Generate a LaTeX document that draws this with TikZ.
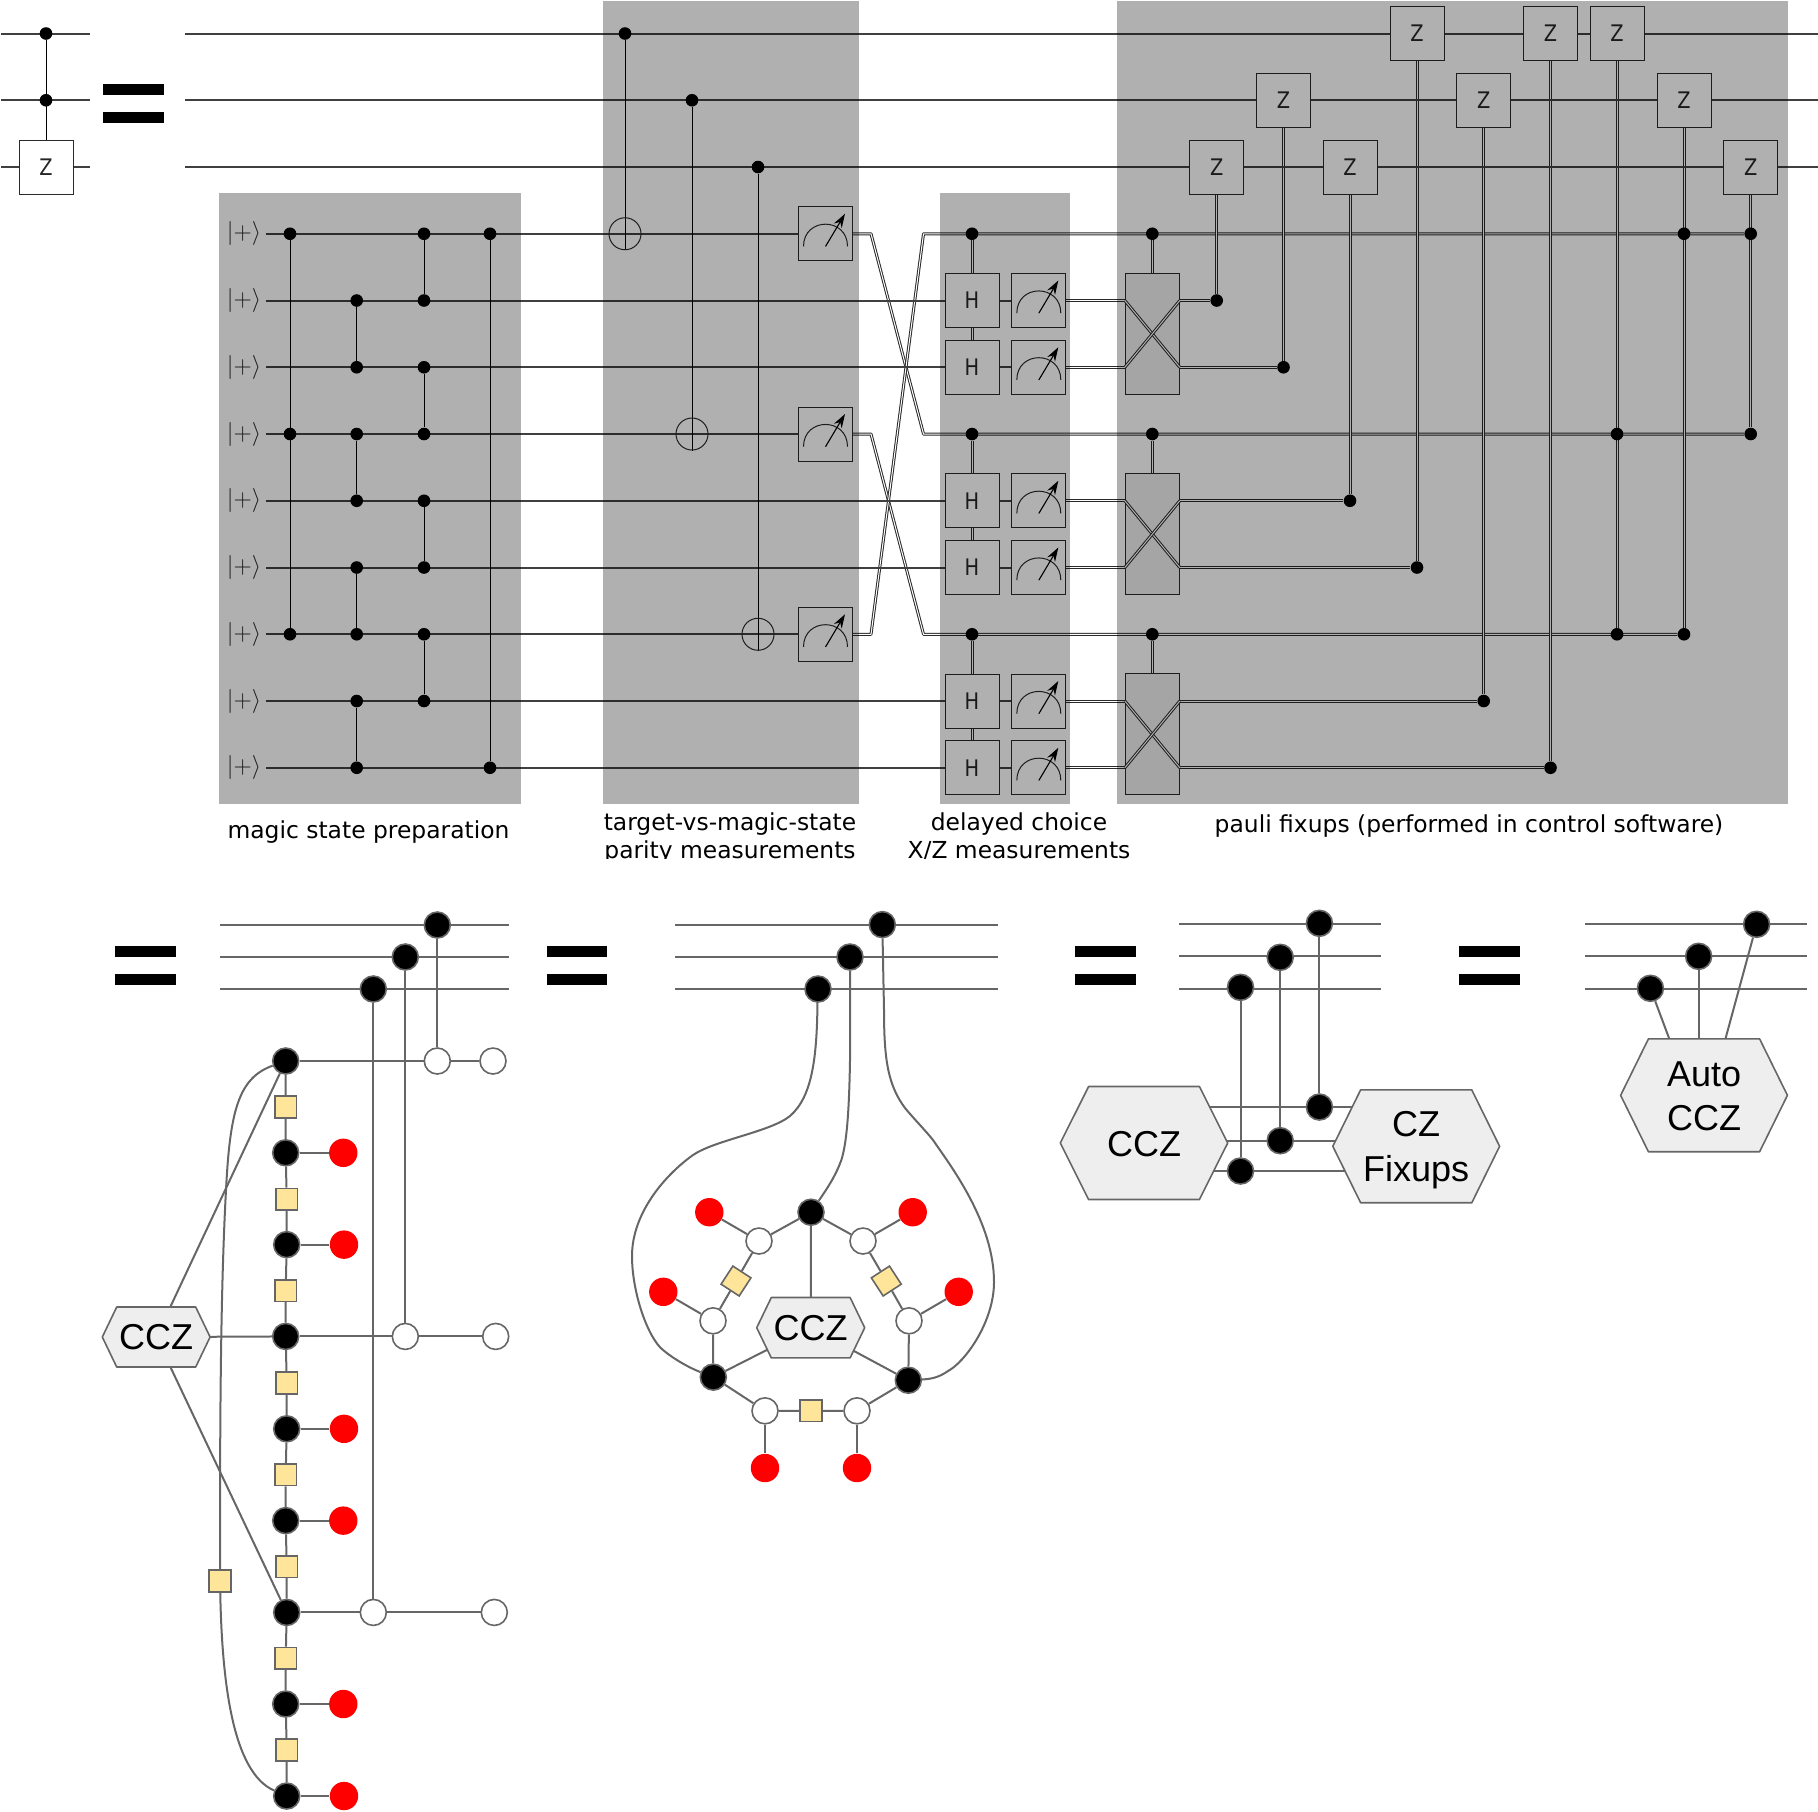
\documentclass[tikz,border=0pt]{standalone}
\usepackage{fontspec}
\usepackage{graphicx}
\setmainfont{Liberation Sans}
\newfontfamily\qfont{DejaVu Sans}
\usetikzlibrary{arrows.meta}
\pgfdeclarelayer{wires}
\pgfdeclarelayer{shade}
\pgfsetlayers{wires,main,shade}
\definecolor{gl}{HTML}{666666}
\definecolor{yel}{HTML}{FFE599}
\definecolor{hexf}{HTML}{EEEEEE}
\definecolor{qline}{HTML}{2A2A2A}
\definecolor{qwire}{HTML}{404040}
\newcommand{\glet}[1]{\scalebox{.85}[1]{#1}}
\tikzset{
  cdot/.style={circle,fill=black,draw=none,inner sep=0pt,minimum size=6.3pt},
  gatebox/.style={rectangle,draw=qline,fill=white,line width=.5pt,inner sep=0pt,minimum size=27pt,text=black!85,font=\qfont\fontsize{11.4}{11.4}\selectfont},
  swapbox/.style={rectangle,draw=qline,fill=black!6,line width=.5pt,inner sep=0pt,minimum width=27pt,minimum height=60.5pt},
  xorc/.style={circle,draw=qline,line width=.5pt,inner sep=0pt,minimum size=16pt},
  qw/.style={draw=qwire,line width=1pt},
  qc/.style={draw=black,line width=.5pt},
  clas/.style={draw=qline,line width=.5pt,double=white,double distance=.5pt,line join=round},
  ket/.style={inner sep=0pt,text=black!85,font=\fontsize{12}{12}\selectfont},
  lab/.style={inner sep=0pt,align=center,font=\qfont\fontsize{11.7}{14}\selectfont},
  gw/.style={draw=gl,line width=1pt},
  bk/.style={circle,fill=black,draw=gl,line width=.8pt,inner sep=0pt,minimum size=13pt},
  wh/.style={circle,fill=white,draw=gl,line width=.8pt,inner sep=0pt,minimum size=13pt},
  rd/.style={circle,fill=red,draw=none,inner sep=0pt,minimum size=14.2pt},
  ys/.style={rectangle,fill=yel,draw=gl,line width=.8pt,inner sep=0pt,minimum size=10.8pt},
  hexs/.style={fill=hexf,draw=gl,line width=.8pt,line join=round},
  hext/.style={inner sep=0pt,align=center,font=\fontsize{18}{22.4}\selectfont}
}
\newcommand{\hexnode}[8]{%
  \path[hexs] (#2-#4,#3) -- (#2-#4+#6,#3-#5) -- (#2+#4-#6,#3-#5) -- (#2+#4,#3) -- (#2+#4-#6,#3+#5) -- (#2-#4+#6,#3+#5) -- cycle;
  \node[hext] (#1) at (#2,#3+#8) {#7};}
\newcommand{\eqsign}[2]{%
  \fill[black] (#1,#2) rectangle (#1+60.5,#2+10.6);
  \fill[black] (#1,#2+28) rectangle (#1+60.5,#2+38.6);}
\begin{document}
\begin{tikzpicture}[x=.5pt,y=-.5pt,declare function={ry(\k)=33.5+66.75*\k;}]
\useasboundingbox (0,0) rectangle (1818,1811);

% ---------- left mini circuit
\node[cdot] (t0) at (46,{ry(0)}) {};
\node[cdot] (t1) at (46,{ry(1)}) {};
\node[gatebox] (zl) at (46,{ry(2)}) {\glet{Z}};
\foreach \k in {0,1,2} {
  \coordinate (ls\k) at (1,{ry(\k)});
  \coordinate (le\k) at (90,{ry(\k)});
  \coordinate (ws\k) at (185,{ry(\k)});
  \coordinate (we\k) at (1818,{ry(\k)});
}
\eqsign{103}{84}

% ---------- control dots
\foreach \xx/\nm/\rs in {290/a/{3,6,9},356.7/b/{4,5,6,7,8,9,10,11},424/c/{3,4,5,6,7,8,9,10},490/d/{3,11},625/e/{0},692/f/{1},758/g/{2},972/h/{3,6,9},1152.3/i/{3,6,9},1216.7/j/{4},1283.5/k/{5},1350/l/{7},1417/m/{8},1483.7/n/{10},1550.5/o/{11},1617/p/{6,9},1684/q/{3,9},1750.7/r/{3,6}} {
  \foreach \k in \rs { \node[cdot] (\nm\k) at (\xx,{ry(\k)}) {}; }
}
% ---------- kets and wire starts
\foreach \k in {3,...,11} {
  \node[ket] (ket\k) at (244,{ry(\k)}) {$|{+}\rangle$};
  \coordinate (qs\k) at (266,{ry(\k)});
}
% ---------- CNOT targets
\node[xorc] (x3) at (625,{ry(3)}) {};
\node[xorc] (x6) at (692,{ry(6)}) {};
\node[xorc] (x9) at (758,{ry(9)}) {};
% ---------- Z gates
\foreach \xx/\k/\nm in {1417/0/z1,1550.5/0/z2,1617/0/z3,1283.5/1/z4,1483.7/1/z5,1684/1/z6,1216.7/2/z7,1350/2/z8,1750.7/2/z9} {
  \node[gatebox] (\nm) at (\xx,{ry(\k)}) {\glet{Z}};
}
% ---------- H gates and meters
\foreach \k in {4,5,7,8,10,11} {
  \node[gatebox] (H\k) at (972,{ry(\k)}) {\glet{H}};
  \node[gatebox] (M\k) at (1038.8,{ry(\k)}) {};
  \begin{scope}[shift={(1038.8,{ry(\k)})}]
    \draw[draw=qline,line width=.5pt] (-22,12.7) .. controls (-22,-17) and (22,-17) .. (22,12.7);
    \draw[black,line width=.55pt,-{Stealth[length=7pt,width=4.5pt]}] (0,12.7) -- (19.5,-20);
  \end{scope}
}
\foreach \k in {3,6,9} {
  \node[gatebox] (M\k) at (825.5,{ry(\k)}) {};
  \begin{scope}[shift={(825.5,{ry(\k)})}]
    \draw[draw=qline,line width=.5pt] (-22,12.7) .. controls (-22,-17) and (22,-17) .. (22,12.7);
    \draw[black,line width=.55pt,-{Stealth[length=7pt,width=4.5pt]}] (0,12.7) -- (19.5,-20);
  \end{scope}
}
% ---------- swap boxes
\foreach \k/\kk in {4/5,7/8,10/11} {
  \node[swapbox] (S\k) at (1152.3,{ry(\k+.5)}) {};
  \draw[clas] (S\k.west |- H\k) -- (S\k.east |- H\kk);
  \draw[clas] (S\k.west |- H\kk) -- (S\k.east |- H\k);
}
% ---------- crossing bends
\coordinate (b3a) at (871,{ry(3)});
\coordinate (b3b) at (923.5,{ry(6)});
\coordinate (b6a) at (871,{ry(6)});
\coordinate (b6b) at (923.5,{ry(9)});
\coordinate (b9a) at (871,{ry(9)});
\coordinate (b9b) at (923.5,{ry(3)});

\begin{pgfonlayer}{wires}
  % classical
  \draw[clas] (M3) -- (b3a) -- (b3b) -- (r6);
  \draw[clas] (M6) -- (b6a) -- (b6b) -- (q9);
  \draw[clas] (M9) -- (b9a) -- (b9b) -- (r3);
  \foreach \k in {4,5,7,8,10,11} {
    \draw[clas] (M\k) -- (S4.west |- M\k);
  }
  \draw[clas] (h3) -- (H5);
  \draw[clas] (h6) -- (H8);
  \draw[clas] (h9) -- (H11);
  \draw[clas] (i3) -- (S4);
  \draw[clas] (i6) -- (S7);
  \draw[clas] (i9) -- (S10);
  \draw[clas] (S4.east |- H4) -- (j4);
  \draw[clas] (S4.east |- H5) -- (k5);
  \draw[clas] (S7.east |- H7) -- (l7);
  \draw[clas] (S7.east |- H8) -- (m8);
  \draw[clas] (S10.east |- H10) -- (n10);
  \draw[clas] (S10.east |- H11) -- (o11);
  \draw[clas] (z7) -- (j4);
  \draw[clas] (z4) -- (k5);
  \draw[clas] (z8) -- (l7);
  \draw[clas] (z1) -- (m8);
  \draw[clas] (z5) -- (n10);
  \draw[clas] (z2) -- (o11);
  \draw[clas] (z3) -- (p9);
  \draw[clas] (z6) -- (q9);
  \draw[clas] (z9) -- (r6);
  % quantum wires
  \foreach \k in {0,1,2} {
    \draw[qw] (ls\k) -- (le\k);
    \draw[qw] (ws\k) -- (we\k);
  }
  \foreach \k in {3,6,9} { \draw[qw] (qs\k) -- (M\k); }
  \foreach \k in {4,5,7,8,10,11} {
    \draw[qw] (qs\k) -- (H\k);
    \draw[qw] (H\k) -- (M\k);
  }
  % controls
  \draw[qc] (t0) -- (zl);
  \draw[qc] (a3) -- (a9);
  \draw[qc] (b4) -- (b5);
  \draw[qc] (b6) -- (b7);
  \draw[qc] (b8) -- (b9);
  \draw[qc] (b10) -- (b11);
  \draw[qc] (c3) -- (c4);
  \draw[qc] (c5) -- (c6);
  \draw[qc] (c7) -- (c8);
  \draw[qc] (c9) -- (c10);
  \draw[qc] (d3) -- (d11);
  \draw[qc] (e0) -- (x3);
  \draw[qc] (f1) -- (x6);
  \draw[qc] (g2) -- (x9);
  \draw[qc] (x3.north) -- (x3.south);
  \draw[qc] (x6.north) -- (x6.south);
  \draw[qc] (x9.north) -- (x9.south);
\end{pgfonlayer}

\begin{pgfonlayer}{shade}
  \fill[black,opacity=.31] (219,193) rectangle (521,804);
  \fill[black,opacity=.31] (603,1) rectangle (859,804);
  \fill[black,opacity=.31] (940,193) rectangle (1070,804);
  \fill[black,opacity=.31] (1117,1) rectangle (1788,804);
\end{pgfonlayer}

% ---------- labels (the picture cuts them off just under the lower line)
\begin{scope}
  \clip (0,0) rectangle (1818,858);
  \node[lab] (lab1) at (368.5,832) {magic state preparation};
  \node[lab,anchor=base] (lab2a) at (730,830) {target-vs-magic-state};
  \node[lab,anchor=base] (lab2b) at (730,858) {parity measurements};
  \node[lab,anchor=base] (lab3a) at (1019,830) {delayed choice};
  \node[lab,anchor=base] (lab3b) at (1019,858) {X/Z measurements};
  \node[lab] (lab4) at (1469,826) {pauli fixups (performed in control software)};
\end{scope}

% ========== section A
\eqsign{115}{946.4}
\node[bk] (Wa) at (437.3,925) {};
\node[bk] (Wb) at (405.3,957) {};
\node[bk] (Wc) at (373.3,989) {};
\coordinate (Asa) at (220.3,925); \coordinate (Aea) at (509,925);
\coordinate (Asb) at (220.3,957); \coordinate (Aeb) at (509,957);
\coordinate (Asc) at (220.3,989); \coordinate (Aec) at (509,989);
\foreach \nm/\xx/\yy in {1/285.7/1061,2/285.7/1152.8,3/286.7/1244.6,4/285.7/1336.4,5/286.7/1428.8,6/285.7/1520.6,7/286.7/1612.4,8/285.7/1704,9/286.7/1796} {
  \node[bk] (A\nm) at (\xx,\yy) {};
}
\foreach \nm/\xx/\yy in {1/285.7/1106.9,2/286.7/1199.2,3/285.7/1290.5,4/286.7/1382.9,5/285.7/1474.7,6/286.7/1566.5,7/285.7/1658.3,8/286.7/1750} {
  \node[ys] (Ay\nm) at (\xx,\yy) {};
}
\foreach \nm/\xx/\yy in {2/343.3/1152.8,3/344/1244.6,5/344/1428.8,6/343.3/1520.6,8/343.3/1704,9/344/1796} {
  \node[rd] (Ar\nm) at (\xx,\yy) {};
}
\node[wh] (Aw1) at (437.3,1061) {};
\node[wh] (Av1) at (493,1061) {};
\node[wh] (Aw4) at (405.3,1336.4) {};
\node[wh] (Av4) at (495.7,1336.4) {};
\node[wh] (Aw7) at (373.3,1612.4) {};
\node[wh] (Av7) at (494.3,1612.4) {};
\hexnode{Ah}{156.2}{1337}{53.9}{30}{14.4}{CCZ}{0}
\node[ys] (Aq) at (220,1581) {};

% ========== section B
\eqsign{546.5}{946.4}
\node[bk] (Ba) at (882.3,924.6) {};
\node[bk] (Bb) at (850,957) {};
\node[bk] (Bc) at (818,989) {};
\coordinate (Bsa) at (675,925); \coordinate (Bea) at (998.3,925);
\coordinate (Bsb) at (675,957); \coordinate (Beb) at (998.3,957);
\coordinate (Bsc) at (675,989); \coordinate (Bec) at (998.3,989);
\hexnode{Bh}{810.7}{1327.7}{54}{30.2}{14.6}{CCZ}{0}
\node[bk] (Bt) at (811,1212.2) {};
\node[bk] (Bl) at (713.3,1377.1) {};
\node[bk] (Br) at (908.3,1380.2) {};
\node[wh] (Bw1) at (759,1241) {};
\node[wh] (Bw2) at (863,1241) {};
\node[wh] (Bw3) at (713,1320.8) {};
\node[wh] (Bw4) at (909,1320.8) {};
\node[wh] (Bw5) at (765,1410.8) {};
\node[wh] (Bw6) at (857,1410.8) {};
\node[rd] (Br1) at (709.3,1212.2) {};
\node[rd] (Br2) at (912.7,1212.2) {};
\node[rd] (Br3) at (663.3,1291.8) {};
\node[rd] (Br4) at (958.7,1291.8) {};
\node[rd] (Br5) at (765,1468) {};
\node[rd] (Br6) at (857,1468) {};
\node[ys,rotate=-33] (By1) at (736,1281) {};
\node[ys,rotate=33] (By2) at (886.3,1281) {};
\node[ys] (By3) at (811,1410.8) {};

% ========== section C
\eqsign{1075}{946.4}
\node[bk] (Ca) at (1319.4,923.3) {};
\node[bk] (Cb) at (1280.2,957.3) {};
\node[bk] (Cc) at (1240.5,987.3) {};
\coordinate (Csa) at (1179,924.3); \coordinate (Cea) at (1381,924.3);
\coordinate (Csb) at (1179,956.3); \coordinate (Ceb) at (1381,956.3);
\coordinate (Csc) at (1179,988.7); \coordinate (Cec) at (1381,988.7);
\hexnode{Ch}{1144}{1143}{83.7}{56.5}{28.3}{CCZ}{1}
\hexnode{Cf}{1416.2}{1146.3}{83.4}{56.4}{27.8}{CZ\\Fixups}{4}
\node[bk] (Cp) at (1319.4,1107) {};
\node[bk] (Cq) at (1280.2,1140.7) {};
\node[bk] (Cr) at (1240.5,1171) {};

% ========== section D
\eqsign{1459}{946.4}
\node[bk] (Da) at (1756.6,924.3) {};
\node[bk] (Db) at (1698.6,956.3) {};
\node[bk] (Dc) at (1650.4,988.3) {};
\coordinate (Dsa) at (1585,924.3); \coordinate (Dea) at (1807,924.3);
\coordinate (Dsb) at (1585,956.3); \coordinate (Deb) at (1807,956.3);
\coordinate (Dsc) at (1585,988.7); \coordinate (Dec) at (1807,988.7);
\hexnode{Dh}{1704}{1095.3}{83.4}{56.4}{27.8}{Auto\\CCZ}{1}
\coordinate (Dl) at (1669.3,1038.9);
\coordinate (Dm) at (1698.6,1038.9);
\coordinate (Dr) at (1725.4,1038.9);

\begin{pgfonlayer}{wires}
  % A
  \foreach \w in {a,b,c} { \draw[gw] (As\w) -- (Ae\w); }
  \draw[gw] (A1) -- (Ay1) -- (A2) -- (Ay2) -- (A3) -- (Ay3) -- (A4) -- (Ay4) -- (A5) -- (Ay5) -- (A6) -- (Ay6) -- (A7) -- (Ay7) -- (A8) -- (Ay8) -- (A9);
  \foreach \k in {2,3,5,6,8,9} { \draw[gw] (A\k) -- (Ar\k); }
  \draw[gw] (A1) -- (Av1);
  \draw[gw] (A4) -- (Av4);
  \draw[gw] (A7) -- (Av7);
  \draw[gw] (Wa) -- (Aw1);
  \draw[gw] (Wb) -- (Aw4);
  \draw[gw] (Wc) -- (Aw7);
  \draw[gw] (Ah) -- (A1);
  \draw[gw] (Ah) -- (A4);
  \draw[gw] (Ah) -- (A7);
  \draw[gw] (A1) .. controls (238,1078) and (230,1112) .. (226,1190) .. controls (220,1300) and (220,1450) .. (Aq) .. controls (222,1680) and (232,1772) .. (A9);
  % B
  \foreach \w in {a,b,c} { \draw[gw] (Bs\w) -- (Be\w); }
  \draw[gw] (Bt) -- (Bh);
  \draw[gw] (Bh) -- (Bl);
  \draw[gw] (Bh) -- (Br);
  \draw[gw] (Bt) -- (Bw1) -- (By1) -- (Bw3) -- (Bl) -- (Bw5) -- (By3) -- (Bw6) -- (Br) -- (Bw4) -- (By2) -- (Bw2) -- (Bt);
  \draw[gw] (Bw1) -- (Br1);
  \draw[gw] (Bw2) -- (Br2);
  \draw[gw] (Bw3) -- (Br3);
  \draw[gw] (Bw4) -- (Br4);
  \draw[gw] (Bw5) -- (Br5);
  \draw[gw] (Bw6) -- (Br6);
  \draw[gw] (Bc) -- (817.5,1000) .. controls (817,1055) and (813,1096) .. (790,1116) .. controls (770,1132) and (715,1140) .. (693,1155) .. controls (665,1175) and (632,1213) .. (632,1256) .. controls (632,1293) and (648,1338) .. (663,1350) .. controls (675,1360) and (690,1368) .. (Bl);
  \draw[gw] (Bb) -- (850,1060) .. controls (849,1120) and (846,1143) .. (842,1158) .. controls (836,1176) and (826,1190) .. (Bt);
  \draw[gw] (Ba) -- (884,1010) .. controls (884,1060) and (888,1085) .. (905,1108) .. controls (915,1120) and (925,1130) .. (933,1140) .. controls (950,1165) and (994,1222) .. (994,1282) .. controls (994,1322) and (965,1362) .. (948,1371) .. controls (938,1378) and (930,1379) .. (Br);
  % C
  \foreach \w in {a,b,c} { \draw[gw] (Cs\w) -- (Ce\w); }
  \draw[gw] (Ca) -- (Cp);
  \draw[gw] (Cb) -- (Cq);
  \draw[gw] (Cc) -- (Cr);
  \draw[gw] (Ch |- Cp) -- (Cf |- Cp);
  \draw[gw] (Ch |- Cq) -- (Cf |- Cq);
  \draw[gw] (Ch |- Cr) -- (Cf |- Cr);
  % D
  \foreach \w in {a,b,c} { \draw[gw] (Ds\w) -- (De\w); }
  \draw[gw] (Da) -- (Dr);
  \draw[gw] (Db) -- (Dm);
  \draw[gw] (Dc) -- (Dl);
\end{pgfonlayer}
\end{tikzpicture}
\end{document}
